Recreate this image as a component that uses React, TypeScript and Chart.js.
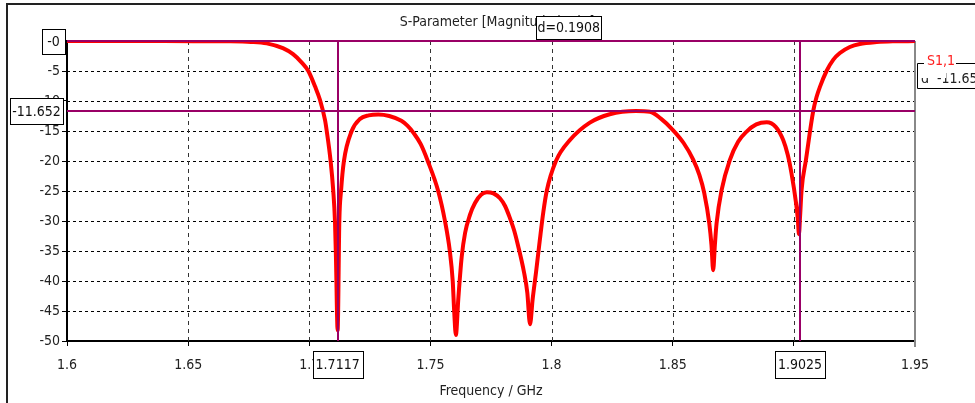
import React, { useEffect, useRef } from "react";
import { Chart, registerables } from "chart.js";

Chart.register(...registerables);

// ---------- data ----------
const freqGHz = [
  1.6, 1.62, 1.64, 1.655, 1.6673, 1.676, 1.6824, 1.6891, 1.6933, 1.6969, 1.6996,
  1.7024, 1.7044, 1.7065, 1.7072, 1.7088, 1.7099, 1.7106, 1.711, 1.7117,
  1.7124, 1.7131, 1.7143, 1.7175, 1.7209, 1.7245, 1.7285, 1.733, 1.738, 1.7405,
  1.743, 1.746, 1.7489, 1.7532, 1.756, 1.758, 1.7592, 1.7598, 1.7605, 1.7615,
  1.7629, 1.7643, 1.7663, 1.7684, 1.771, 1.7733, 1.776, 1.7787, 1.7808, 1.7828,
  1.7845, 1.7861, 1.7886, 1.79, 1.7911, 1.7922, 1.7936, 1.7952, 1.7966, 1.798,
  1.8018, 1.8076, 1.8158, 1.824, 1.8348, 1.8406, 1.845, 1.85, 1.8545, 1.8585,
  1.861, 1.863, 1.8651, 1.866, 1.8667, 1.8674, 1.8681, 1.8702, 1.8736, 1.877,
  1.8805, 1.8845, 1.8888, 1.8925, 1.8956, 1.8975, 1.899, 1.9009, 1.9016, 1.9021,
  1.9026, 1.9032, 1.905, 1.908, 1.9094, 1.9108, 1.9135, 1.9163, 1.919, 1.9231,
  1.9272, 1.9342, 1.9409, 1.95,
];
const s11dB = [
  -0.02, -0.02, -0.02, -0.03, -0.05, -0.15, -0.4, -1.2, -2.2, -3.6, -5.0,
  -7.6, -9.8, -13.2, -15.0, -20.0, -25.0, -30.0, -36.0, -48.2,
  -30.0, -25.0, -20.0, -15.0, -13.0, -12.4, -12.25, -12.5, -13.3, -14.1,
  -15.3, -17.2, -20.0, -25.0, -30.0, -35.0, -40.0, -45.0, -49.0, -43.0,
  -36.0, -32.0, -29.0, -27.0, -25.6, -25.2, -25.4, -26.2, -27.5, -29.5,
  -31.5, -34.0, -38.5, -42.0, -47.2, -43.0, -38.5, -33.0, -28.5, -25.0,
  -20.0, -16.5, -13.6, -12.2, -11.65, -11.8, -12.9, -14.8, -17.0, -19.8,
  -22.3, -25.3, -30.4, -34.0, -38.2, -34.0, -30.4, -24.8, -19.8, -16.8,
  -15.1, -13.9, -13.55, -14.3, -16.5, -19.0, -22.0, -27.0, -29.5, -32.2,
  -29.0, -24.8, -19.8, -11.65, -9.3, -7.6, -5.0, -3.1, -2.0, -1.0,
  -0.5, -0.17, -0.05, -0.02,
];
const xTickLabels = ["1.6", "1.65", "1.7", "1.75", "1.8", "1.85", "1.9", "1.95"];
const yTickValues = [-50, -45, -40, -35, -30, -25, -20, -15, -10, -5, 0];
const yTickLabels = ["-50", "-45", "-40", "-35", "-30", "-25", "-20", "-15", "-10", "-5", "-0"];
const markerFreqs = [1.7117, 1.9025];
const markerLevels = [0, -11.652];
const markerFreqLabels = ["1.7117", "1.9025"];
const markerLevelLabels = ["-0", "-11.652"];
const deltaLabel = "d=0.1908";
const chartTitle = "S-Parameter [Magnitude in dB]";
const xAxisTitle = "Frequency / GHz";
const seriesName = "S1,1";
const legendValue = "d  -11.652";

const FONT = "'DejaVu Sans Condensed', 'Liberation Sans Narrow', sans-serif";
const FS = 14;
const MARKER = "#990066";

function drawBox(ctx: CanvasRenderingContext2D, text: string, cx: number, cy: number, w: number, h: number) {
  const x = Math.round(cx - w / 2) + 0.5;
  const y = Math.round(cy - h / 2) + 0.5;
  ctx.fillStyle = "#fff";
  ctx.fillRect(x, y, w, h);
  ctx.strokeStyle = "#000";
  ctx.lineWidth = 1;
  ctx.setLineDash([]);
  ctx.strokeRect(x, y, w, h);
  ctx.fillStyle = "#111";
  ctx.textAlign = "center";
  ctx.textBaseline = "middle";
  ctx.fillText(text, cx, cy + 1);
}

const decorPlugin = {
  id: "decor",
  beforeDatasetsDraw(chart: any) {
    const { ctx, chartArea, scales } = chart;
    const { left, right, top, bottom } = chartArea;
    const xs = scales.x;
    const ys = scales.y;
    ctx.save();
    ctx.lineWidth = 1;
    ctx.strokeStyle = "#000";
    ctx.setLineDash([3, 3]);
    yTickValues.forEach((v) => {
      if (v === -50 || v === 0) return;
      const py = Math.round(ys.getPixelForValue(v)) + 0.5;
      ctx.beginPath();
      ctx.moveTo(left, py);
      ctx.lineTo(right, py);
      ctx.stroke();
    });
    ctx.strokeStyle = "#333";
    ctx.setLineDash([4, 4]);
    xTickLabels.forEach((t) => {
      const v = parseFloat(t);
      if (v <= 1.6 || v >= 1.95) return;
      const px = Math.round(xs.getPixelForValue(v)) + 0.5;
      ctx.beginPath();
      ctx.moveTo(px, top);
      ctx.lineTo(px, bottom);
      ctx.stroke();
    });
    // right border
    ctx.setLineDash([]);
    ctx.strokeStyle = "#888";
    ctx.lineWidth = 2;
    ctx.beginPath();
    ctx.moveTo(right, top);
    ctx.lineTo(right, bottom + 6);
    ctx.stroke();
    ctx.restore();
  },
  afterDatasetsDraw(chart: any) {
    const { ctx, chartArea, scales } = chart;
    const { left, right, top, bottom } = chartArea;
    const xs = scales.x;
    const ys = scales.y;
    ctx.save();
    ctx.strokeStyle = MARKER;
    ctx.lineWidth = 2;
    ctx.setLineDash([]);
    markerLevels.forEach((v) => {
      const py = Math.round(ys.getPixelForValue(v));
      ctx.beginPath();
      ctx.moveTo(left, py);
      ctx.lineTo(right, py);
      ctx.stroke();
    });
    markerFreqs.forEach((f) => {
      const px = Math.round(xs.getPixelForValue(f));
      ctx.beginPath();
      ctx.moveTo(px, top);
      ctx.lineTo(px, bottom);
      ctx.stroke();
    });
    ctx.restore();
  },
  afterDraw(chart: any) {
    const { ctx, chartArea, scales } = chart;
    const { left, right } = chartArea;
    const xs = scales.x;
    const ys = scales.y;
    ctx.save();
    ctx.font = `${FS}px ${FONT}`;
    // title
    ctx.fillStyle = "#222";
    ctx.textAlign = "center";
    ctx.textBaseline = "middle";
    ctx.fillText(chartTitle, (left + right) / 2 + 6, 22);
    // delta box centred between the frequency markers
    const m0 = xs.getPixelForValue(markerFreqs[0]);
    const m1 = xs.getPixelForValue(markerFreqs[1]);
    drawBox(ctx, deltaLabel, (m0 + m1) / 2, 27, 65, 23);
    // level marker boxes
    drawBox(ctx, markerLevelLabels[0], left - 13.5, ys.getPixelForValue(markerLevels[0]), 23, 25);
    drawBox(ctx, markerLevelLabels[1], left - 30.5, ys.getPixelForValue(markerLevels[1]), 53, 26);
    // frequency marker boxes
    markerFreqs.forEach((f, i) => {
      drawBox(ctx, markerFreqLabels[i], xs.getPixelForValue(f), 364, 50, 27);
    });
    // x axis title
    ctx.fillStyle = "#222";
    ctx.textAlign = "center";
    ctx.textBaseline = "middle";
    ctx.fillText(xAxisTitle, (left + right) / 2, 391);
    // legend
    ctx.strokeStyle = "#000";
    ctx.lineWidth = 1;
    ctx.beginPath();
    ctx.moveTo(917.5, 63.5);
    ctx.lineTo(924, 63.5);
    ctx.moveTo(956, 63.5);
    ctx.lineTo(975, 63.5);
    ctx.moveTo(917.5, 63.5);
    ctx.lineTo(917.5, 88.5);
    ctx.lineTo(975, 88.5);
    ctx.stroke();
    ctx.fillStyle = "#222";
    ctx.textAlign = "left";
    ctx.textBaseline = "alphabetic";
    ctx.fillText(legendValue, 921, 83);
    ctx.fillStyle = "#fff";
    ctx.fillRect(919, 65, 27, 13);
    ctx.fillStyle = "#ff2020";
    ctx.textBaseline = "middle";
    ctx.fillText(seriesName, 927, 61);
    // outer frame
    ctx.strokeStyle = "#222";
    ctx.lineWidth = 2;
    ctx.beginPath();
    ctx.moveTo(975, 4);
    ctx.lineTo(7, 4);
    ctx.lineTo(7, 403);
    ctx.stroke();
    ctx.restore();
  },
};

export default function App() {
  const ref = useRef<HTMLCanvasElement | null>(null);
  useEffect(() => {
    if (!ref.current) return;
    Chart.defaults.font.family = FONT;
    Chart.defaults.font.size = FS;
    Chart.defaults.color = "#222";
    const chart = new Chart(ref.current, {
      type: "line",
      data: {
        datasets: [
          {
            label: seriesName,
            data: freqGHz.map((f, i) => ({ x: f, y: s11dB[i] })),
            borderColor: "#ff0000",
            borderWidth: 4,
            pointRadius: 0,
            fill: false,
            cubicInterpolationMode: "monotone",
          },
        ],
      },
      options: {
        animation: false,
        responsive: false,
        events: [],
        layout: { padding: { top: 41, right: 60, left: 0, bottom: 0 } },
        plugins: { legend: { display: false }, tooltip: { enabled: false }, title: { display: false } },
        scales: {
          x: {
            type: "linear",
            min: 1.6,
            max: 1.95,
            afterBuildTicks: (scale: any) => {
              scale.ticks = xTickLabels.map((t) => ({ value: parseFloat(t) }));
            },
            afterFit: (scale: any) => {
              scale.height = 62;
            },
            ticks: {
              autoSkip: false,
              maxRotation: 0,
              padding: 11,
              color: "#222",
              callback: (v: any) => {
                const i = xTickLabels.findIndex((t) => Math.abs(parseFloat(t) - v) < 1e-6);
                return i >= 0 ? xTickLabels[i] : "";
              },
            },
            grid: { drawOnChartArea: false, drawTicks: true, tickLength: 5, color: "#000", lineWidth: 1 },
            border: { display: true, color: "#000", width: 2 },
          },
          y: {
            type: "linear",
            min: -50,
            max: 0,
            afterBuildTicks: (scale: any) => {
              scale.ticks = yTickValues.map((v) => ({ value: v }));
            },
            afterFit: (scale: any) => {
              scale.width = 67;
            },
            ticks: {
              autoSkip: false,
              padding: 2,
              color: "#222",
              callback: (v: any) => {
                const i = yTickValues.indexOf(Math.round(v));
                return i >= 0 ? yTickLabels[i] : "";
              },
            },
            grid: { drawOnChartArea: false, drawTicks: true, tickLength: 5, color: "#000", lineWidth: 1 },
            border: { display: true, color: "#000", width: 2 },
          },
        },
      },
      plugins: [decorPlugin],
    } as any);
    return () => chart.destroy();
  }, []);
  return (
    <div style={{ position: "absolute", left: 0, top: 0, width: 975, height: 403, background: "#fff" }}>
      <canvas ref={ref} width={975} height={403} style={{ display: "block", width: 975, height: 403 }} />
    </div>
  );
}
